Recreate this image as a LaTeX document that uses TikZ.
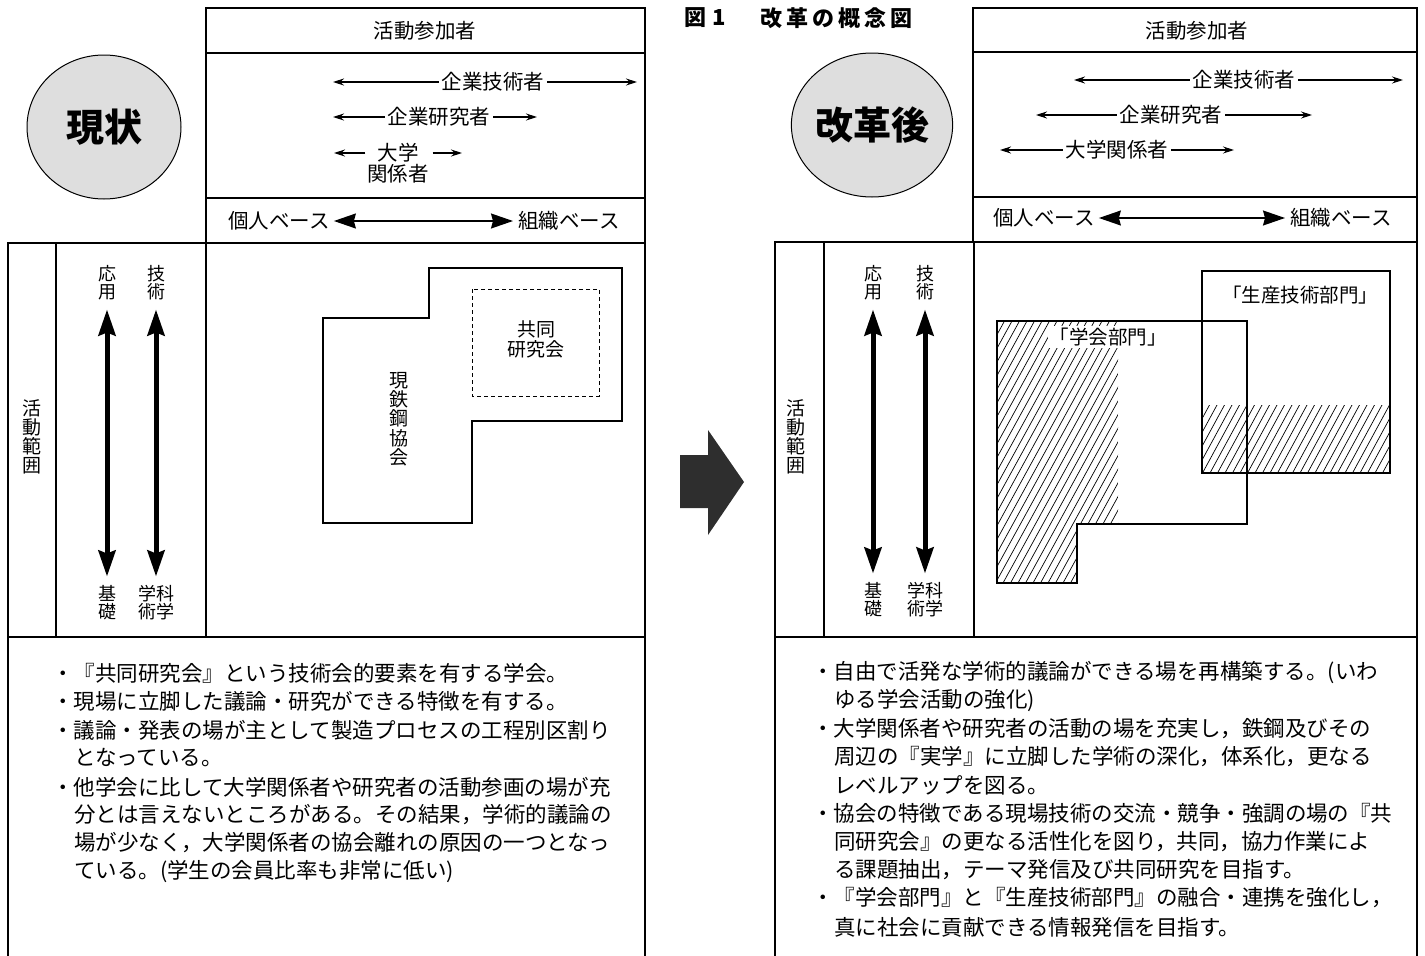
\documentclass[tikz,border=0pt]{standalone}
\usepackage{fontspec}
\setmainfont{Noto Sans CJK JP}
\usetikzlibrary{arrows.meta,shapes.geometric}
\begin{document}
\begin{tikzpicture}[x=1pt,y=-1pt,
  frame/.style={line width=1.6pt},
  lbl/.style={font=\fontsize{20.5}{21}\selectfont, inner sep=3pt},
  body/.style={font=\fontsize{21.5}{22}\selectfont, anchor=west, inner sep=0pt},
  thinarr/.style={line width=1.1pt, -{Stealth[length=11pt,width=7pt]}},
  basearr/.style={line width=1.4pt, {Stealth[length=22pt,width=15pt,inset=2pt]}-{Stealth[length=22pt,width=15pt,inset=2pt]}},
  vararr/.style={line width=5pt, {Stealth[length=26pt,width=17pt,inset=3pt]}-{Stealth[length=26pt,width=17pt,inset=3pt]}},
  vlbl/.style={font=\fontsize{18}{18}\selectfont, align=center, inner sep=0pt},
  bubble/.style={draw, line width=1pt, ellipse, fill=black!13, minimum width=154pt, minimum height=144pt, inner sep=0pt, font=\fontsize{38}{40}\selectfont\bfseries},
  shapeline/.style={line width=1.4pt},
  hatch/.style={line width=0.7pt},
  ttl/.style={anchor=west, inner sep=0pt, font=\fontsize{22}{23}\selectfont\bfseries},
]
\useasboundingbox (0,0) rectangle (1425,956);

% ================= LEFT PANEL =================
\draw[frame] (206,8) rectangle (645,243);
\draw[frame] (206,53) -- (645,53);
\draw[frame] (206,198) -- (645,198);
\draw[frame] (8,243) rectangle (645,637);
\draw[frame] (56,243) -- (56,637);
\draw[frame] (206,243) -- (206,637);
\draw[frame] (8,637) -- (8,956);
\draw[frame] (645,637) -- (645,956);

\node[bubble] (genjo) at (104,127) {現状};

\node[lbl] (sankaL) at (425,31) {活動参加者};

\node[lbl] (gijutsuL) at (493,82) {企業技術者};
\coordinate (gijutsuLa) at (333,82);
\coordinate (gijutsuLb) at (637,82);
\draw[thinarr] (gijutsuL.west) -- (gijutsuLa);
\draw[thinarr] (gijutsuL.east) -- (gijutsuLb);

\node[lbl] (kenkyuL) at (439,117) {企業研究者};
\coordinate (kenkyuLa) at (333,117);
\coordinate (kenkyuLb) at (537,117);
\draw[thinarr] (kenkyuL.west) -- (kenkyuLa);
\draw[thinarr] (kenkyuL.east) -- (kenkyuLb);

\node[lbl, inner sep=0pt] (daigakuL) at (398,153) {大学};
\node[lbl, inner sep=0pt] (kankeiL) at (398,174) {関係者};
\coordinate (daigakuLa) at (334,153);
\coordinate (daigakuLb) at (462,153);
\draw[thinarr] ([xshift=-12pt]daigakuL.west) -- (daigakuLa);
\draw[thinarr] ([xshift=14pt]daigakuL.east) -- (daigakuLb);

\node[lbl, anchor=west, inner sep=0pt] (kojinL) at (228,221) {個人ベース};
\node[lbl, anchor=west, inner sep=0pt] (soshikiL) at (518,221) {組織ベース};
\draw[basearr] ([xshift=4pt]kojinL.east) -- ([xshift=-5pt]soshikiL.west);

\node[vlbl, font=\fontsize{19}{19.2}\selectfont] (hanniL) at (32,437) {活\\動\\範\\囲};
\node[vlbl] (ouyouL) at (107,283) {応\\用};
\node[vlbl] (gijL) at (156,283) {技\\術};
\node[vlbl] (kisoL) at (107,603) {基\\礎};
\node[vlbl] (gakuL) at (156,603) {学科\\術学};
\draw[vararr] ([yshift=-9pt]ouyouL.south) -- ([yshift=9pt]kisoL.north);
\draw[vararr] ([yshift=-9pt]gijL.south) -- ([yshift=9pt]gakuL.north);

\draw[shapeline] (323,318) -- (429,318) -- (429,268) -- (622,268) -- (622,421)
  -- (472,421) -- (472,523) -- (323,523) -- cycle;
\draw[line width=1pt, dash pattern=on 4pt off 3pt] (472,289) rectangle (599,396);
\node[vlbl, font=\fontsize{19}{20}\selectfont] (kyodo) at (536,339) {共同\\研究会};
\node[vlbl, font=\fontsize{19}{19.3}\selectfont] (tekko) at (399,419) {現\\鉄\\鋼\\協\\会};

\node[body] (L1) at (52,673) {・『共同研究会』という技術会的要素を有する学会。};
\node[body] (L2) at (52,701) {・現場に立脚した議論・研究ができる特徴を有する。};
\node[body] (L3) at (52,730) {・議論・発表の場が主として製造プロセスの工程別区割り};
\node[body] (L4) at (74,758) {となっている。};
\node[body] (L5) at (52,787) {・他学会に比して大学関係者や研究者の活動参画の場が充};
\node[body] (L6) at (74,815) {分とは言えないところがある。その結果，学術的議論の};
\node[body] (L7) at (74,843) {場が少なく，大学関係者の協会離れの原因の一つとなっ};
\node[body] (L8) at (74,872) {ている。(学生の会員比率も非常に低い)};

% ================= MIDDLE ARROW =================
\fill[black!82] (680,455) -- (708,455) -- (708,430) -- (744,482) -- (708,535)
  -- (708,508) -- (680,508) -- cycle;

% ================= RIGHT PANEL =================
\node[ttl] (titleA) at (684,18) {図\hspace{6pt}1};
\node[ttl] (titleB) at (760,18)
  {改\hspace{4pt}革\hspace{4pt}の\hspace{4pt}概\hspace{4pt}念\hspace{4pt}図};

\draw[frame] (973,8) rectangle (1417,242);
\draw[frame] (973,52) -- (1417,52);
\draw[frame] (973,197) -- (1417,197);
\draw[frame] (775,242) rectangle (1417,637);
\draw[frame] (824,242) -- (824,637);
\draw[frame] (974,242) -- (974,637);
\draw[frame] (775,637) -- (775,956);
\draw[frame] (1417,637) -- (1417,956);

\node[bubble] (kaikaku) at (872,125) {改革後};

\node[lbl] (sankaR) at (1197,31) {活動参加者};

\node[lbl] (gijutsuR) at (1244,80) {企業技術者};
\coordinate (gijutsuRa) at (1074,80);
\coordinate (gijutsuRb) at (1403,80);
\draw[thinarr] (gijutsuR.west) -- (gijutsuRa);
\draw[thinarr] (gijutsuR.east) -- (gijutsuRb);

\node[lbl] (kenkyuR) at (1171,115) {企業研究者};
\coordinate (kenkyuRa) at (1036,115);
\coordinate (kenkyuRb) at (1312,115);
\draw[thinarr] (kenkyuR.west) -- (kenkyuRa);
\draw[thinarr] (kenkyuR.east) -- (kenkyuRb);

\node[lbl] (daigakuR) at (1117,150) {大学関係者};
\coordinate (daigakuRa) at (1000,150);
\coordinate (daigakuRb) at (1234,150);
\draw[thinarr] (daigakuR.west) -- (daigakuRa);
\draw[thinarr] (daigakuR.east) -- (daigakuRb);

\node[lbl, anchor=west, inner sep=0pt] (kojinR) at (993,218) {個人ベース};
\node[lbl, anchor=west, inner sep=0pt] (soshikiR) at (1290,218) {組織ベース};
\draw[basearr] ([xshift=4pt]kojinR.east) -- ([xshift=-5pt]soshikiR.west);

\node[vlbl, font=\fontsize{19}{19.2}\selectfont] (hanniR) at (796,437) {活\\動\\範\\囲};
\node[vlbl] (ouyouR) at (873,283) {応\\用};
\node[vlbl] (gijR) at (925,283) {技\\術};
\node[vlbl] (kisoR) at (873,600) {基\\礎};
\node[vlbl] (gakuR) at (925,600) {学科\\術学};
\draw[vararr] ([yshift=-9pt]ouyouR.south) -- ([yshift=9pt]kisoR.north);
\draw[vararr] ([yshift=-9pt]gijR.south) -- ([yshift=9pt]gakuR.north);

% hatching
\begin{scope}
  \clip (997,321) -- (1118,321) -- (1118,524) -- (1077,524) -- (1077,583) -- (997,583) -- cycle;
  \foreach \k in {0,...,38} \draw[hatch] (853+\k*7.5,583) -- ++(144,-262);
\end{scope}
\begin{scope}
  \clip (1202,405) rectangle (1390,473);
  \foreach \k in {0,...,32} \draw[hatch] (1165+\k*7.5,473) -- ++(37,-68);
\end{scope}

\draw[shapeline] (997,321) -- (1247,321) -- (1247,524) -- (1077,524) -- (1077,583) -- (997,583) -- cycle;
\draw[shapeline] (1202,271) rectangle (1390,473);

\node[font=\fontsize{19.5}{20}\selectfont, fill=white, inner sep=2pt] (gakkai) at (1108,337) {「学会部門」};
\node[font=\fontsize{19.5}{20}\selectfont, inner sep=2pt] (seisan) at (1300,295) {「生産技術部門」};

\node[body] (R1) at (812,673) {・自由で活発な学術的議論ができる場を再構築する。(いわ};
\node[body] (R2) at (834,701) {ゆる学会活動の強化)};
\node[body] (R3) at (812,729) {・大学関係者や研究者の活動の場を充実し，鉄鋼及びその};
\node[body] (R4) at (834,757) {周辺の『実学』に立脚した学術の深化，体系化，更なる};
\node[body] (R5) at (834,785) {レベルアップを図る。};
\node[body] (R6) at (812,813) {・協会の特徴である現場技術の交流・競争・強調の場の『共};
\node[body] (R7) at (834,842) {同研究会』の更なる活性化を図り，共同，協力作業によ};
\node[body] (R8) at (834,870) {る課題抽出，テーマ発信及び共同研究を目指す。};
\node[body] (R9) at (812,898) {・『学会部門』と『生産技術部門』の融合・連携を強化し，};
\node[body] (R10) at (834,927) {真に社会に貢献できる情報発信を目指す。};
\end{tikzpicture}
\end{document}
